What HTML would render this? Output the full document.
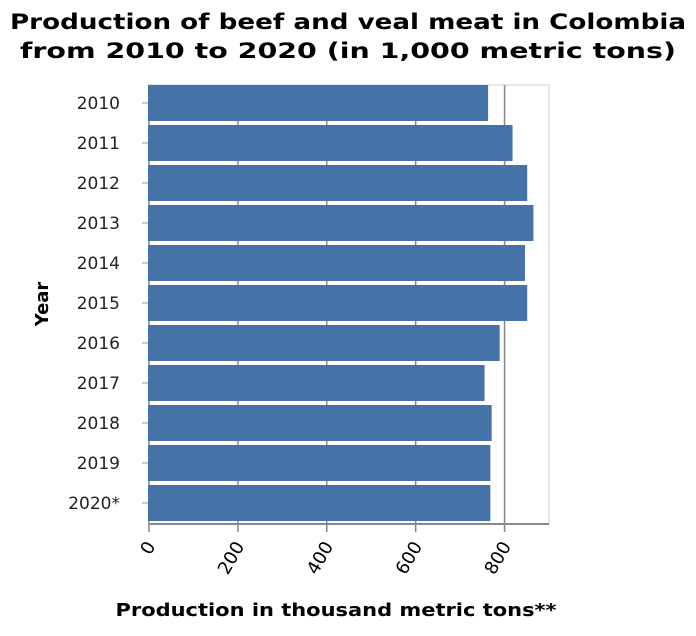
<!DOCTYPE html>
<html><head><meta charset="utf-8"><style>
body{margin:0;background:#fff;font-family:"DejaVu Sans","Liberation Sans",sans-serif}
</style></head><body>
<svg id="chart" width="696" height="632" xmlns="http://www.w3.org/2000/svg" font-family="DejaVu Sans, Liberation Sans, sans-serif">
<text x="348" y="29" text-anchor="middle" font-size="21" font-weight="bold" fill="#000" textLength="676" lengthAdjust="spacingAndGlyphs">Production of beef and veal meat in Colombia</text>
<text x="348" y="58" text-anchor="middle" font-size="21" font-weight="bold" fill="#000" textLength="656" lengthAdjust="spacingAndGlyphs">from 2010 to 2020 (in 1,000 metric tons)</text>
<text x="336" y="616" text-anchor="middle" font-size="18" font-weight="bold" textLength="441" lengthAdjust="spacingAndGlyphs">Production in thousand metric tons**</text>
<text transform="translate(48,304) rotate(-90)" text-anchor="middle" font-size="18" font-weight="bold">Year</text>
<g id="plot"></g>
</svg>
<script>
const categories=["2010","2011","2012","2013","2014","2015","2016","2017","2018","2019","2020*"];
const values=[763,818,851,865,846,851,789,755,771,768,768];
const ticks=[0,200,400,600,800];
const ns="http://www.w3.org/2000/svg";
const plotG=document.getElementById('plot');
const x0=149,xMax=900,plotR=549,plotTop=85,plotBot=524,step=40;
const xs=v=>x0+v*(plotR-x0)/xMax;
const yc=i=>plotTop+18+i*step;
function mk(t,a){const e=document.createElementNS(ns,t);for(const k in a)e.setAttribute(k,a[k]);plotG.appendChild(e);return e;}
let fr=mk('rect',{x:x0,y:plotTop,width:plotR-x0,height:plotBot-plotTop,fill:'none',stroke:'#ddd','stroke-width':1.5});


ticks.forEach(t=>{
 const l=mk('line',{x1:xs(t),x2:xs(t),y1:plotTop,y2:plotBot+8,stroke:'#888','stroke-width':1.5});
 
 
 const tx=mk('text',{transform:`translate(${xs(t)+7},${plotBot+22}) rotate(-60)`,'text-anchor':'end','font-size':18,fill:'#000'});
 tx.textContent=t;
 
 
});
categories.forEach((c,i)=>{
 const tk=mk('line',{x1:x0-7,x2:x0,y1:yc(i),y2:yc(i),stroke:'#bbb','stroke-width':1.5});
 
 
 const b=mk('rect',{x:x0-1,y:yc(i)-18,width:xs(values[i])-x0+1,height:36,fill:'#4572a7'});
 
 
 const t=mk('text',{x:120,y:yc(i)+6,'text-anchor':'end','font-size':17,fill:'#222'});
 t.textContent=c;
 
 
});
const ax=mk('line',{x1:x0,x2:plotR,y1:plotBot,y2:plotBot,stroke:'#888','stroke-width':2});


</script>
</body></html>
